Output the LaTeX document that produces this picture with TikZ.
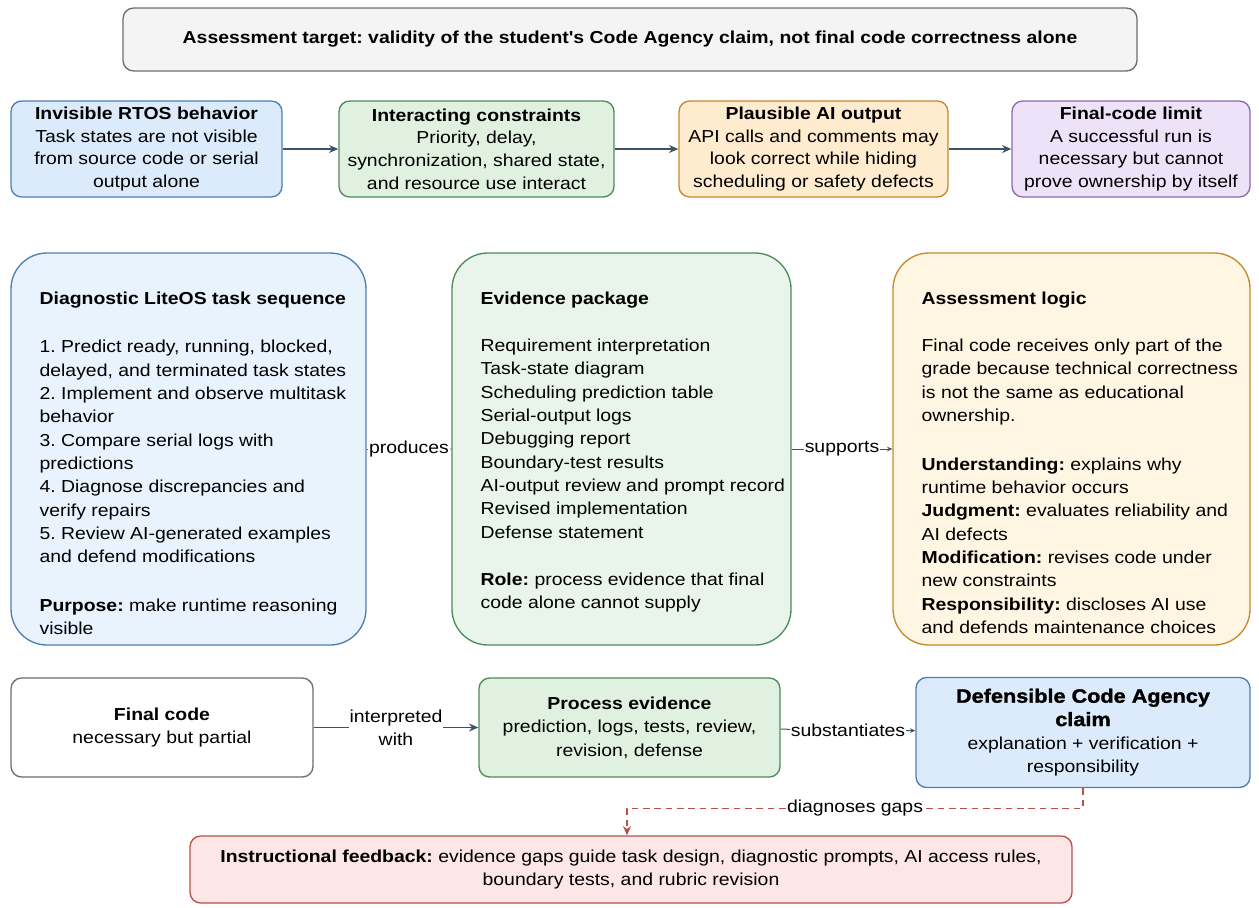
\documentclass[tikz,border=0pt]{standalone}
\usepackage{fontspec}
\setmainfont[FakeStretch=1.12]{Liberation Sans}
\newfontfamily\plainsans[FakeStretch=1.12]{Liberation Sans}
\usetikzlibrary{arrows.meta,positioning}
\definecolor{targetF}{HTML}{F4F4F4}
\definecolor{targetD}{HTML}{6E6E6E}
\definecolor{blueF}{HTML}{DCEBFB}
\definecolor{blueL}{HTML}{E8F3FD}
\definecolor{blueD}{HTML}{4F7FB0}
\definecolor{greenF}{HTML}{E0F1DF}
\definecolor{greenL}{HTML}{E9F5EA}
\definecolor{greenD}{HTML}{4F8A5B}
\definecolor{orangeF}{HTML}{FFEBCE}
\definecolor{orangeL}{HTML}{FFF5E3}
\definecolor{orangeD}{HTML}{C48A2C}
\definecolor{purpleF}{HTML}{EEE2F8}
\definecolor{purpleD}{HTML}{8E6AAE}
\definecolor{redF}{HTML}{FCE6E6}
\definecolor{redD}{HTML}{B8504C}
\definecolor{arrowc}{HTML}{3D5366}
\tikzset{wh/.style 2 args={minimum width=#1*0.75pt,minimum height=#2*0.75pt}}
\frenchspacing

\begin{document}
\begin{tikzpicture}[x=0.75pt, y=-0.75pt]

\tikzset{box/.style={draw,line width=1pt,rounded corners=8pt,align=center,inner sep=0pt,font=\fontsize{13}{17}\selectfont},
bigbox/.style={draw,line width=1pt,rounded corners=27pt,inner sep=0pt},
bodytext/.style={align=left,anchor=north west,inner sep=0pt,font=\fontsize{13}{17.5}\selectfont},
flow/.style={draw=arrowc,line width=1pt,-{Stealth[length=7pt,width=6pt]}},
smallflow/.style={draw=arrowc,line width=0.75pt,-{Stealth[length=4pt,width=3.5pt]}},
gapflow/.style={draw=redD,line width=1pt,dash pattern=on 5pt off 3.5pt,-{Stealth[length=7pt,width=6pt]}},
edgelabel/.style={fill=white,inner sep=0.5pt,align=center,font=\fontsize{13}{17}\selectfont}}

\useasboundingbox (0,0) rectangle (1259,907);

% Target
\node[box,wh={1014}{63},fill=targetF,draw=targetD] (target) at (630,39.5) {\bfseries Assessment target: validity of the student{\plainsans\bfseries '}s Code Agency claim, not final code correctness alone};

% Problem row
\node[box,wh={271}{96},fill=blueF,draw=blueD] (rtos) at (146.5,149) {\bfseries Invisible RTOS behavior\\ Task states are not visible\\ from source code or serial\\ output alone};
\node[box,wh={275}{96},fill=greenF,draw=greenD] (constr) at (476.5,149) {\bfseries Interacting constraints\\ Priority, delay,\\ synchronization, shared state,\\ and resource use interact};
\node[box,wh={269}{96},fill=orangeF,draw=orangeD] (aiout) at (813.5,149) {\bfseries Plausible AI output\\ API calls and comments may\\ look correct while hiding\\ scheduling or safety defects};
\node[box,wh={238}{96},fill=purpleF,draw=purpleD] (limit) at (1131,149) {\bfseries Final-code limit\\ A successful run is\\ necessary but cannot\\ prove ownership by itself};
\foreach \a/\b in {rtos/constr,constr/aiout,aiout/limit} \draw[flow] (\a) -- (\b);

% Middle row
\node[bigbox,wh={355}{392},fill=blueL,draw=blueD] (seq) at (188.5,449) {};
\node[bigbox,wh={339}{392},fill=greenL,draw=greenD] (pkg) at (621.5,449) {};
\node[bigbox,wh={357}{392},fill=orangeL,draw=orangeD] (logic) at (1071.5,449) {};

\node[bodytext] (seqtext) at ([shift={(29,39)}]seq.north west) {\textbf{Diagnostic LiteOS task sequence}\\[19pt]
1. Predict ready, running, blocked,\\ delayed, and terminated task states\\
2. Implement and observe multitask\\ behavior\\
3. Compare serial logs with\\ predictions\\
4. Diagnose discrepancies and\\ verify repairs\\
5. Review AI-generated examples\\ and defend modifications\\[19pt]
\textbf{Purpose:} make runtime reasoning\\ visible};
\node[bodytext] (pkgtext) at ([shift={(29,39)}]pkg.north west) {\textbf{Evidence package}\\[18pt]
Requirement interpretation\\ Task-state diagram\\ Scheduling prediction table\\ Serial-output logs\\ Debugging report\\ Boundary-test results\\ AI-output review and prompt record\\ Revised implementation\\ Defense statement\\[18pt]
\textbf{Role:} process evidence that final\\ code alone cannot supply};
\node[bodytext] (logictext) at ([shift={(29,39)}]logic.north west) {\textbf{Assessment logic}\\[18pt]
Final code receives only part of the\\ grade because technical correctness\\ is not the same as educational\\ ownership.\\[19pt]
\textbf{Understanding:} explains why\\ runtime behavior occurs\\
\textbf{Judgment:} evaluates reliability and\\ AI defects\\
\textbf{Modification:} revises code under\\ new constraints\\
\textbf{Responsibility:} discloses AI use\\ and defends maintenance choices};

\draw[smallflow] (seq) -- node[edgelabel] (produces) {produces} (pkg);
\draw[smallflow] (pkg) -- node[edgelabel] (supports) {supports} (logic);

% Claim row
\node[box,wh={302}{99},fill=white,draw=targetD,font=\fontsize{13}{17.5}\selectfont] (final) at (162,727.5) {\bfseries Final code\\ necessary but partial};
\node[box,wh={301}{99},fill=greenF,draw=greenD,font=\fontsize{13}{17.5}\selectfont] (process) at (629.5,727.5) {\bfseries Process evidence\\ prediction, logs, tests, review,\\ revision, defense};
\node[box,wh={334}{110},fill=blueF,draw=blueD,font=\fontsize{13}{17.5}\selectfont] (claim) at (1083,732.5) {\fontsize{14.5}{17.5}\selectfont\addfontfeature{FakeBold=1.5}\bfseries Defensible Code Agency\\ \fontsize{14.5}{17.5}\selectfont\addfontfeature{FakeBold=1.5}\bfseries claim\\ explanation + verification +\\ responsibility};
\draw[flow] (final) -- node[edgelabel] (interp) {interpreted\\ with} (process);
\draw[smallflow] (process) -- node[edgelabel] (subst) {substantiates} (claim);

% Feedback
\node[box,wh={882}{67},fill=redF,draw=redD,font=\fontsize{13}{17.5}\selectfont] (feedback) at (631,869.5) {\textbf{Instructional feedback:} evidence gaps guide task design, diagnostic prompts, AI access rules,\\ boundary tests, and rubric revision};
\draw[gapflow] (claim.south) -- ++(0,20) coordinate (gapturn) -| node[pos=0.25,edgelabel] (gaps) {diagnoses gaps} ([xshift=-3pt]feedback.north);

\end{tikzpicture}
\end{document}
